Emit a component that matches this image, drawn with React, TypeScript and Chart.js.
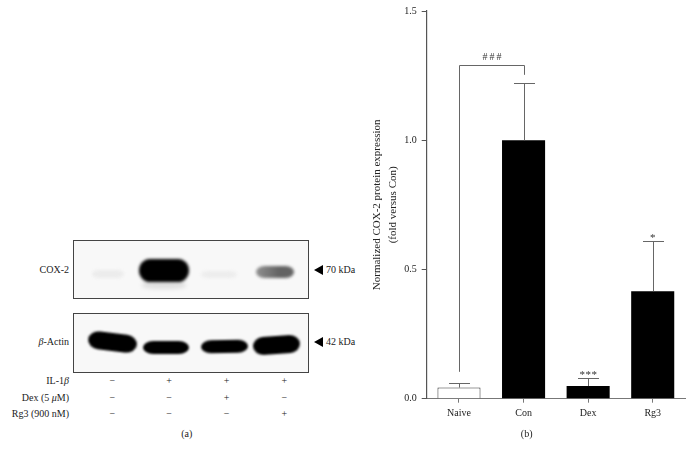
import React, { useEffect, useRef } from "react";
import { Chart, registerables } from "chart.js";

Chart.register(...registerables);

// ---------- data ----------
const categories = ["Naive", "Con", "Dex", "Rg3"];
const meanValues = [0.043, 1.0, 0.049, 0.416];
const errorValues = [0.019, 0.22, 0.032, 0.195];
const barColors = ["#ffffff", "#000000", "#000000", "#000000"];
const significance = ["", "", "***", "*"];
const yTickStep = 0.5;
const yMin = 0;
const yMax = 1.5;
const yTitle = ["Normalized COX-2 protein expression", "(fold versus Con)"];

const bracketFrom = 0;
const bracketTo = 1;
const bracketLevel = 1.29;
const bracketLeftBottom = 0.104;
const bracketRightBottom = 1.253;
const bracketLabel = "###";

// western blot (panel a)
const laneSigns = [
  ["−", "+", "+", "+"],
  ["−", "−", "+", "−"],
  ["−", "−", "−", "+"],
];
const cox2Intensity = [0.05, 1.0, 0.045, 0.6];
const actinIntensity = [1, 1, 1, 1];

const FONT = "'Liberation Serif', 'DejaVu Serif', serif";

const annotationPlugin = {
  id: "annot",
  afterDatasetsDraw(chart: any) {
    const { ctx, scales } = chart;
    const y = scales.y;
    const meta = chart.getDatasetMeta(0);
    ctx.save();
    ctx.strokeStyle = "#666";
    ctx.lineWidth = 1;
    // error bars
    meta.data.forEach((bar: any, i: number) => {
      const x = Math.round(bar.x) + 0.5;
      const yTop = y.getPixelForValue(meanValues[i]);
      const yErr = Math.round(y.getPixelForValue(meanValues[i] + errorValues[i])) + 0.5;
      ctx.beginPath();
      ctx.moveTo(x, yTop);
      ctx.lineTo(x, yErr);
      ctx.moveTo(x - 10.5, yErr);
      ctx.lineTo(x + 10.5, yErr);
      ctx.stroke();
      // significance marks
      const s = significance[i];
      if (s) {
        ctx.fillStyle = "#333";
        ctx.font = `11px ${FONT}`;
        ctx.textAlign = "center";
        ctx.textBaseline = "alphabetic";
        const n = s.length;
        for (let k = 0; k < n; k++) {
          ctx.fillText("*", bar.x + (k - (n - 1) / 2) * 6, yErr - 1);
        }
      }
    });
    // bracket
    const x0 = Math.round(meta.data[bracketFrom].x) + 0.5;
    const x1 = Math.round(meta.data[bracketTo].x) + 0.5;
    const yb = Math.round(y.getPixelForValue(bracketLevel)) + 0.5;
    ctx.beginPath();
    ctx.moveTo(x0, y.getPixelForValue(bracketLeftBottom));
    ctx.lineTo(x0, yb);
    ctx.lineTo(x1, yb);
    ctx.lineTo(x1, y.getPixelForValue(bracketRightBottom));
    ctx.stroke();
    ctx.fillStyle = "#333";
    ctx.font = `10px ${FONT}`;
    ctx.textAlign = "center";
    ctx.textBaseline = "alphabetic";
    const cx = (x0 + x1) / 2;
    const n = bracketLabel.length;
    for (let k = 0; k < n; k++) {
      ctx.fillText(bracketLabel[k], cx + (k - (n - 1) / 2) * 7, yb - 6);
    }
    ctx.restore();
  },
};

function BarChart() {
  const ref = useRef<HTMLCanvasElement | null>(null);
  useEffect(() => {
    if (!ref.current) return;
    const font = { family: FONT, size: 10 };
    const chart = new Chart(ref.current, {
      type: "bar",
      data: {
        labels: categories,
        datasets: [
          {
            data: meanValues,
            backgroundColor: barColors,
            borderColor: "#333",
            borderWidth: [1, 0, 0, 0],
            barPercentage: 0.667,
            categoryPercentage: 1,
          },
        ],
      },
      options: {
        animation: false,
        responsive: false,
        maintainAspectRatio: false,
        layout: { padding: { top: 11, right: 7, left: 0, bottom: 0 } },
        plugins: { legend: { display: false }, tooltip: { enabled: false } },
        scales: {
          x: {
            type: "category",
            offset: true,
            grid: {
              display: true,
              drawOnChartArea: false,
              drawTicks: true,
              tickLength: 4,
              color: "#777",
              offset: false,
            },
            border: { display: true, color: "#777", width: 1 },
            ticks: { font, color: "#222", padding: 4.5 },
            afterFit: (s: any) => {
              s.height = 57.3;
            },
          },
          y: {
            min: yMin,
            max: yMax,
            ticks: {
              stepSize: yTickStep,
              font,
              color: "#222",
              padding: 5,
              callback: (v: any) => Number(v).toFixed(1),
            },
            grid: {
              display: true,
              drawOnChartArea: false,
              drawTicks: true,
              tickLength: 5,
              color: "#555",
            },
            border: { display: true, color: "#555", width: 1.2 },
            title: {
              display: true,
              text: yTitle,
              color: "#222",
              font: { family: FONT, size: 11, lineHeight: 1.48 },
              padding: { top: 8.5, bottom: 0 },
            },
            afterFit: (s: any) => {
              s.width = 66.7;
            },
          },
        },
      },
      plugins: [annotationPlugin],
    } as any);
    return () => chart.destroy();
  }, []);
  return (
    <canvas
      ref={ref}
      width={332}
      height={456}
      style={{ position: "absolute", left: 360, top: 0, width: 332, height: 456 }}
    />
  );
}

function Txt(props: { x: number; y: number; align?: "left" | "right" | "center"; children: React.ReactNode }) {
  const { x, y, align = "left", children } = props;
  const w = 200;
  const left = align === "left" ? x : align === "right" ? x - w : x - w / 2;
  return (
    <div
      style={{
        position: "absolute",
        left,
        top: y - 7,
        width: w,
        height: 14,
        lineHeight: "14px",
        textAlign: align,
        fontFamily: FONT,
        fontSize: 10,
        color: "#222",
        whiteSpace: "nowrap",
      }}
    >
      {children}
    </div>
  );
}

function Band(props: {
  l: number;
  t: number;
  w: number;
  h: number;
  intensity: number;
  rot?: number;
  blur?: number;
  shade?: boolean;
}) {
  const { l, t, w, h, intensity, rot = 0, blur = 1.3, shade = false } = props;
  const g = Math.round(248 * (1 - intensity));
  const gl = Math.round(248 * (1 - intensity * 0.7));
  const bg = shade
    ? `linear-gradient(to right, rgb(${gl},${gl},${gl}), rgb(${g},${g},${g}) 60%, rgb(${g},${g},${g}))`
    : `rgb(${g},${g},${g})`;
  return (
    <div
      style={{
        position: "absolute",
        left: l,
        top: t,
        width: w,
        height: h,
        borderRadius: `${w * 0.22}px / ${h * 0.5}px`,
        background: bg,
        filter: `blur(${blur}px)`,
        transform: `rotate(${rot}deg)`,
      }}
    />
  );
}

function Triangle(props: { x: number; y: number }) {
  return (
    <div
      style={{
        position: "absolute",
        left: props.x,
        top: props.y - 5,
        width: 0,
        height: 0,
        borderTop: "5px solid transparent",
        borderBottom: "5px solid transparent",
        borderRight: "9px solid #000",
      }}
    />
  );
}

function Blot() {
  const laneX = [112.3, 169, 226.7, 284.3];
  const rowY = [381, 397.7, 414];
  const boxStyle = (top: number): React.CSSProperties => ({
    position: "absolute",
    left: 73.3,
    top,
    width: 236,
    height: 59.3,
    boxSizing: "border-box",
    border: "1px solid #444",
    background: "#f8f8f8",
    overflow: "hidden",
  });
  // COX-2 band geometry (relative to box)
  const coxBands = [
    { l: 18, t: 29, w: 32, h: 8 },
    { l: 65, t: 18, w: 50, h: 23 },
    { l: 127, t: 30, w: 36, h: 7 },
    { l: 182, t: 25, w: 38, h: 12 },
  ];
  const actinBands = [
    { l: 13.4, t: 19, w: 48.5, h: 18, rot: 7 },
    { l: 68.4, t: 27, w: 46.6, h: 13, rot: 0 },
    { l: 126.7, t: 26, w: 46.6, h: 13, rot: -1 },
    { l: 178.4, t: 22, w: 46.6, h: 18, rot: -4 },
  ];
  const rowLabels = [
    <span key="a">IL-1<i>β</i></span>,
    <span key="b">Dex (5 <i>μ</i>M)</span>,
    <span key="c">Rg3 (900 nM)</span>,
  ];
  return (
    <>
      <div style={boxStyle(240)}>
        {coxBands.map((b, i) => (
          <Band
            key={i}
            {...b}
            intensity={cox2Intensity[i]}
            blur={i === 1 ? 1.5 : 1.8}
            shade={i === 3}
          />
        ))}
        <div
          style={{
            position: "absolute",
            left: 68,
            top: 40,
            width: 44,
            height: 8,
            borderRadius: "40%",
            background: "rgba(0,0,0,0.1)",
            filter: "blur(2px)",
          }}
        />
      </div>
      <div style={boxStyle(313.3)}>
        {actinBands.map((b, i) => (
          <Band key={i} {...b} intensity={actinIntensity[i]} blur={1.3} />
        ))}
      </div>
      <Txt x={69} y={270} align="right">COX-2</Txt>
      <Txt x={69} y={342} align="right">
        <i>β</i>-Actin
      </Txt>
      <Triangle x={314} y={270} />
      <Triangle x={314} y={342} />
      <Txt x={326} y={270}>70 kDa</Txt>
      <Txt x={326} y={342}>42 kDa</Txt>
      {rowLabels.map((lab, r) => (
        <Txt key={r} x={69} y={rowY[r]} align="right">
          {lab}
        </Txt>
      ))}
      {laneSigns.map((row, r) =>
        row.map((s, c) => (
          <Txt key={`${r}-${c}`} x={laneX[c]} y={rowY[r]} align="center">
            {s}
          </Txt>
        ))
      )}
      <Txt x={186.7} y={434} align="center">(a)</Txt>
    </>
  );
}

export default function App() {
  return (
    <div
      style={{
        position: "absolute",
        left: 0,
        top: 0,
        width: 692,
        height: 456,
        overflow: "hidden",
        background: "#fff",
      }}
    >
      <Blot />
      <BarChart />
      <Txt x={526.7} y={434} align="center">(b)</Txt>
    </div>
  );
}
